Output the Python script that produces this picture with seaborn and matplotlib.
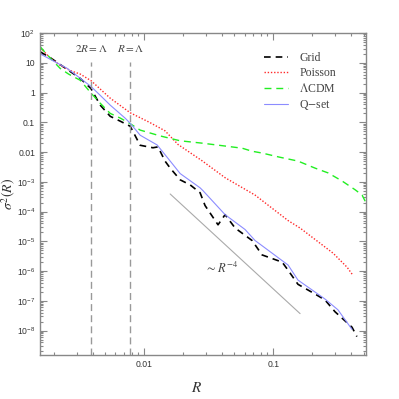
import numpy as np
import pandas as pd
import matplotlib
matplotlib.use("Agg")
import matplotlib.pyplot as plt
import seaborn as sns
from matplotlib.lines import Line2D
from matplotlib.ticker import FixedLocator, LogLocator, NullFormatter

# --- data (R, sigma^2(R)) ---
grid_R = [0.00157, 0.00187, 0.00254, 0.00320, 0.00387, 0.00457, 0.00546, 0.00652,
          0.00780, 0.00931, 0.0117, 0.0128, 0.0145, 0.0159, 0.0190, 0.0227, 0.0271,
          0.0296, 0.0373, 0.0423, 0.0506, 0.0684, 0.0818, 0.117, 0.130, 0.155,
          0.210, 0.251, 0.300, 0.406, 0.443]
grid_s2 = [23.4, 15.1, 6.0, 3.0, 1.38, 0.38, 0.16, 0.11,
           0.074, 0.017, 0.0140, 0.0150, 0.0050, 0.0029, 0.00117, 7.9e-4, 4.3e-4,
           1.6e-4, 3.6e-5, 7.9e-5, 2.8e-5, 1.07e-5, 3.5e-6, 2.0e-6, 1.07e-6, 3.6e-7,
           1.7e-7, 1.07e-7, 4.3e-8, 1.3e-8, 6.3e-9]

pois_R = [0.00157, 0.00187, 0.00224, 0.00268, 0.00320, 0.00389, 0.00546, 0.0078,
          0.0111, 0.0145, 0.0183, 0.0281, 0.0423, 0.0721, 0.130, 0.161, 0.290,
          0.372, 0.413]
pois_s2 = [32, 14.8, 8.3, 5.5, 4.2, 2.5, 0.65, 0.21,
           0.098, 0.052, 0.018, 0.0051, 0.00138, 3.6e-4, 5e-5, 2.8e-5, 4e-6,
           1.35e-6, 7.2e-7]

lcdm_R = [0.00157, 0.00175, 0.00224, 0.00260, 0.00320, 0.00389, 0.00457, 0.00546,
          0.00652, 0.0078, 0.00931, 0.0133, 0.0190, 0.0281, 0.0423, 0.0575,
          0.0684, 0.0818, 0.111, 0.155, 0.210, 0.265, 0.340, 0.43, 0.486, 0.52]
lcdm_s2 = [35, 20, 6.5, 4.2, 2.6, 0.95, 0.44, 0.2,
           0.14, 0.09, 0.055, 0.035, 0.024, 0.020, 0.016, 0.0135,
           0.0107, 0.0093, 0.0068, 0.005, 0.0029, 0.002, 0.00107, 5.4e-4, 3.6e-4, 2e-4]

qset_R = [0.00157, 0.00254, 0.00387, 0.00457, 0.00546, 0.00713, 0.00780, 0.00931,
          0.0126, 0.0159, 0.0190, 0.0271, 0.0286, 0.0423, 0.0604, 0.0721,
          0.130, 0.155, 0.251, 0.316, 0.406]
qset_s2 = [20, 6.5, 1.62, 0.81, 0.38, 0.138, 0.093, 0.037,
           0.0174, 0.005, 0.0019, 6.3e-4, 5e-4, 7.9e-5, 2.5e-5, 1.07e-5,
           1.6e-6, 5e-7, 1.15e-7, 5e-8, 1.1e-8]

lam = 1 / 128.0
slope_R = [0.0159, 0.161]
slope_amp = 2.5e-11

y_ticks = [1e2, 1e1, 1, 1e-1, 1e-2, 1e-3, 1e-4, 1e-5, 1e-6, 1e-7, 1e-8]
y_labels = [r"$10^{2}$", "10", "1", "0.1", "0.01", r"$10^{-3}$", r"$10^{-4}$",
            r"$10^{-5}$", r"$10^{-6}$", r"$10^{-7}$", r"$10^{-8}$"]
x_ticks = [0.01, 0.1]
x_labels = ["0.01", "0.1"]

sns.set_style("ticks")
plt.rcParams["font.family"] = ["Liberation Sans", "DejaVu Sans"]
plt.rcParams["mathtext.fontset"] = "custom"
plt.rcParams["mathtext.rm"] = "Liberation Sans"
plt.rcParams["mathtext.it"] = "Liberation Sans:italic"
plt.rcParams["mathtext.bf"] = "Liberation Sans:bold"

fig = plt.figure(figsize=(3.99, 3.99), dpi=100)
ax = fig.add_axes([0.100, 0.110, 0.817, 0.807])

series = [
    (grid_R, grid_s2, "Grid", "black", (0, (4, 3)), 1.2),
    (pois_R, pois_s2, "Poisson", "#ff2a2a", (0, (1, 1.3)), 1.0),
    (lcdm_R, lcdm_s2, r"$\Lambda$CDM", "#22ee22", (0, (5, 3.5)), 1.0),
    (qset_R, qset_s2, "Q$-$set", "#8c8cff", "-", 0.8),
]
handles = []
for xs, ys, lab, col, ls, lw in series:
    df = pd.DataFrame({"R": xs, "s2": ys})
    sns.lineplot(data=df, x="R", y="s2", ax=ax, color=col, linestyle=ls,
                 lw=lw, sort=False, legend=False)
    handles.append(Line2D([0], [0], color=col, linestyle=ls, lw=lw, label=lab))

# R^-4 guide line
sr = np.array(slope_R)
ax.plot(sr, slope_amp * sr ** -4, color="#aaaaaa", lw=0.8)

ax.set_xscale("log")
ax.set_yscale("log")
ax.set_xlim(0.00156, 0.52)
ax.set_ylim(1.5e-9, 100)

# vertical markers
for xv, txt in [(lam / 2, r"$2R=\Lambda$"), (lam, r"$R=\Lambda$")]:
    ax.vlines(xv, 1.5e-9, 11, colors="#999999", linestyles=(0, (5, 3)), lw=1.0)
    ax.text(xv, 31, txt, ha="center", va="center", fontsize=8,
            color="#444444", math_fontfamily="stix")

ax.text(0.040, 1.2e-6, r"$\sim R^{-4}$", ha="center", va="center", fontsize=9,
        color="#444444", math_fontfamily="stix")

ax.yaxis.set_major_locator(FixedLocator(y_ticks))
ax.set_yticklabels(y_labels)
ax.yaxis.set_minor_locator(LogLocator(base=10, subs=np.arange(2, 10), numticks=100))
ax.yaxis.set_minor_formatter(NullFormatter())
ax.xaxis.set_major_locator(FixedLocator(x_ticks))
ax.set_xticklabels(x_labels)
ax.xaxis.set_minor_locator(LogLocator(base=10, subs=np.arange(2, 10), numticks=100))
ax.xaxis.set_minor_formatter(NullFormatter())

ax.tick_params(which="both", direction="in", top=True, right=True,
               color="#888888", labelsize=6.2, labelcolor="#333333", width=0.8)
ax.tick_params(which="major", length=5)
ax.tick_params(which="minor", length=2.5)
for sp in ax.spines.values():
    sp.set_color("#888888")
    sp.set_linewidth(1.0)

ax.set_xlabel(r"$R$", fontsize=11, color="#333333", math_fontfamily="stix")
ax.xaxis.set_label_coords(0.48, -0.08)
ax.set_ylabel(r"$\sigma^2(R)$", fontsize=10, color="#333333", math_fontfamily="stix")
ax.yaxis.set_label_coords(-0.066, 0.5)

leg = ax.legend(handles=handles, loc="upper left", bbox_to_anchor=(0.655, 0.975),
                frameon=False, handlelength=2.0, handletextpad=1.0, labelspacing=0.25,
                prop={"family": "Liberation Serif", "size": 8.5})
for t in leg.get_texts():
    t.set_color("#444444")
    t.set_math_fontfamily("stix")

fig.savefig("out.png", dpi=100)
